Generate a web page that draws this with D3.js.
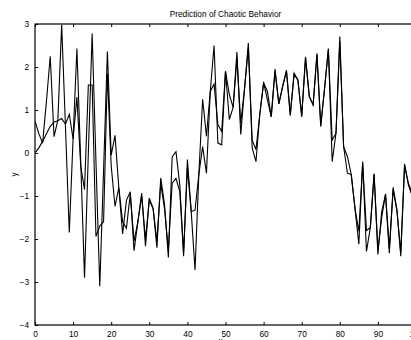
<!DOCTYPE html>
<html><head><meta charset="utf-8">
<script src="https://cdn.jsdelivr.net/npm/d3@7"></script>
<style>
html,body{margin:0;padding:0;background:#fff;overflow:hidden;}
text{font-family:"Liberation Sans",Arial,Helvetica,sans-serif;fill:#000;}
</style></head>
<body>
<svg id="chart" width="411" height="340"></svg>
<script>
const title = "Prediction of Chaotic Behavior";
const yLabel = "y";
const xLabel = "x";
const xTicks = [0,10,20,30,40,50,60,70,80,90,100];
const yTicks = [-4,-3,-2,-1,0,1,2,3];
const actual = [0.74,0.45,0.23,1.2,2.25,0.38,0.77,2.98,0.6,-1.85,
 0.35,2.43,-0.2,-2.9,0.0,2.78,-0.2,-3.1,-0.4,2.36,
 -0.05,0.41,-0.81,-1.88,-1.1,-0.9,-2.27,-1.6,-0.93,-2.17,
 -1.05,-1.28,-2.2,-0.58,-1.2,-2.43,-0.09,0.03,-0.74,-2.4,
 -0.15,-1.36,-2.72,-0.5,1.25,0.39,1.43,2.5,0.23,0.19,
 1.9,0.78,1.06,2.35,0.43,1.5,2.56,0.12,-0.2,0.9,
 1.63,1.43,0.84,1.95,1.14,1.55,1.93,0.87,1.86,1.7,
 0.84,2.24,1.31,1.12,2.32,0.61,1.5,2.43,-0.2,0.46,
 2.71,0.15,-0.47,-0.5,-1.3,-2.12,-0.2,-2.29,-1.74,-0.48,
 -2.36,-1.36,-0.97,-2.33,-0.8,-1.32,-2.4,-0.25,-0.74,-1.0,-2.1];
const predicted = [0,0.12,0.27,0.45,0.62,0.72,0.75,0.8,0.67,0.9,
 0.33,1.3,-0.3,-0.85,1.58,1.58,-1.94,-1.7,-1.6,1.85,
 -0.3,-1.24,-0.81,-1.6,-1.75,-0.95,-2.05,-1.6,-1.0,-2.0,
 -1.1,-1.3,-2.05,-0.7,-1.3,-2.25,-0.7,-0.59,-0.9,-2.3,
 -0.35,-1.36,-1.33,-0.5,0.15,-0.47,1.43,1.6,0.66,0.5,
 1.9,1.36,1.06,2.2,0.7,1.5,2.45,0.3,0.08,0.9,
 1.63,1.24,0.84,1.9,1.14,1.55,1.9,0.9,1.82,1.7,
 0.87,2.2,1.31,1.12,2.28,0.65,1.5,2.4,0.3,0.46,
 2.6,0.15,-0.08,-0.5,-1.3,-1.82,-0.25,-1.8,-1.74,-0.5,
 -2.25,-1.5,-0.95,-2.2,-0.85,-1.35,-2.3,-0.3,-0.7,-0.95,-2.0];

const svg = d3.select("#chart");
const L = 35, R = 416, T = 24, B = 325;
const x = d3.scaleLinear().domain([0,100]).range([L,R]);
const y = d3.scaleLinear().domain([-4,3]).range([B,T]);

svg.append("defs").append("clipPath").attr("id","clip")
  .append("rect").attr("x",L).attr("y",T).attr("width",R-L).attr("height",B-T);

const line = d3.line().x((d,i)=>x(i)).y(d=>y(d));
const g = svg.append("g").attr("clip-path","url(#clip)");
[actual, predicted].forEach(s=>{
  g.append("path").datum(s).attr("d",line)
   .attr("fill","none").attr("stroke","#000").attr("stroke-width",1.1)
   .attr("stroke-linejoin","miter");
});

function styleAxis(sel){
  sel.select(".domain").remove();
  sel.selectAll(".tick line").attr("stroke","#000");
  sel.selectAll(".tick text").attr("font-size","8.3px")
    .attr("font-family","'Liberation Sans',Arial,sans-serif").attr("fill","#333");
}
const xb = svg.append("g").attr("transform",`translate(0,${B})`)
  .call(d3.axisBottom(x).tickValues(xTicks).tickSize(-3).tickPadding(6).tickFormat(d3.format("d")));
styleAxis(xb);
const xt = svg.append("g").attr("transform",`translate(0,${T})`)
  .call(d3.axisTop(x).tickValues(xTicks).tickSize(-3).tickFormat(""));
styleAxis(xt);
const yl = svg.append("g").attr("transform",`translate(${L},0)`)
  .call(d3.axisLeft(y).tickValues(yTicks).tickSize(-3).tickPadding(6).tickFormat(d3.format("d")));
styleAxis(yl);
const yr = svg.append("g").attr("transform",`translate(${R},0)`)
  .call(d3.axisRight(y).tickValues(yTicks).tickSize(-3).tickFormat(""));
styleAxis(yr);

svg.append("rect").attr("x",L).attr("y",T).attr("width",R-L).attr("height",B-T)
  .attr("fill","none").attr("stroke","#000").attr("stroke-width",1.2);

svg.append("text").attr("x",(L+R)/2).attr("y",17).attr("text-anchor","middle")
  .attr("font-size","8.3px").attr("fill","#222").text(title);
svg.append("text").attr("transform",`translate(17,${(T+B)/2}) rotate(-90)`)
  .attr("text-anchor","middle").attr("font-size","8.3px").attr("fill","#222").text(yLabel);
svg.append("text").attr("x",(L+R)/2 - 5).attr("y",344).attr("text-anchor","middle")
  .attr("font-size","8.3px").attr("fill","#222").text(xLabel);
</script>
</body></html>
